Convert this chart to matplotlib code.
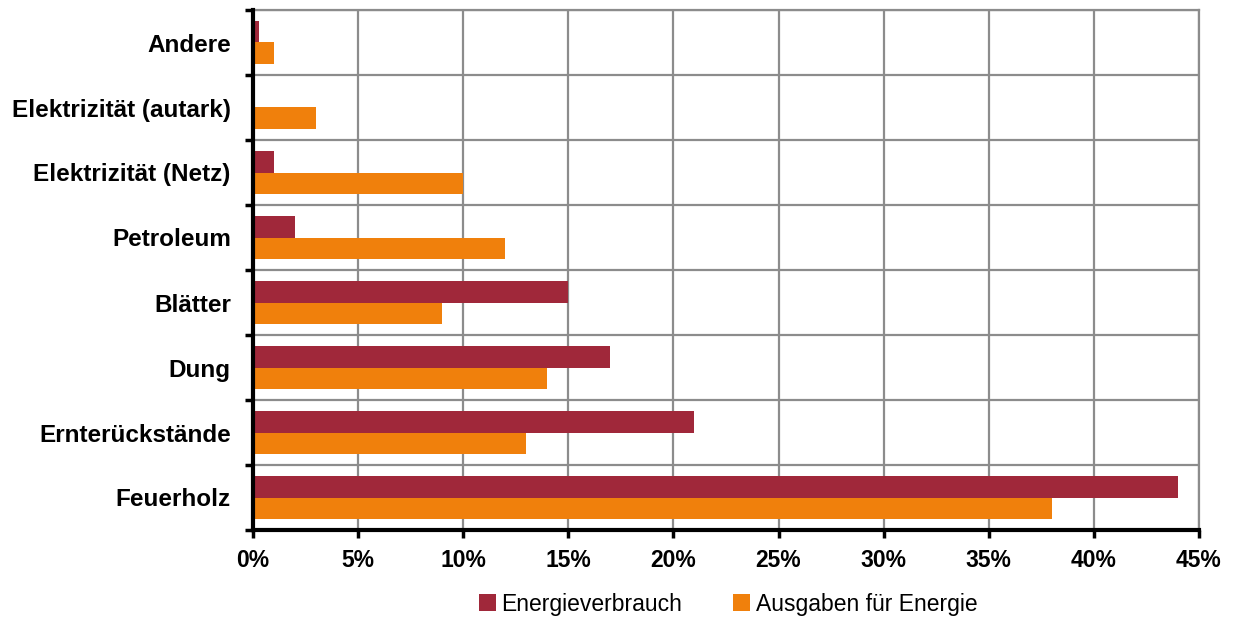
import matplotlib
matplotlib.use("Agg")
import matplotlib.pyplot as plt
import numpy as np
from matplotlib.ticker import FixedLocator, FuncFormatter

categories = ["Feuerholz", "Ernterückstände", "Dung", "Blätter", "Petroleum",
              "Elektrizität (Netz)", "Elektrizität (autark)", "Andere"]
energieverbrauch = [44, 21, 17, 15, 2, 1, 0, 0.3]
ausgaben = [38, 13, 14, 9, 12, 10, 3, 1]
xticks = [0, 5, 10, 15, 20, 25, 30, 35, 40, 45]

plt.rcParams['font.family'] = ['Liberation Sans', 'DejaVu Sans']

fig = plt.figure(figsize=(12.34, 6.19), dpi=100)
ax = fig.add_axes([253/1234, 1-530/619, (1199-253)/1234, (530-10)/619])

y = np.arange(len(categories))
h = 0.33
red = "#A0283A"
orange = "#F0800C"
ax.barh(y + h/2, energieverbrauch, height=h, color=red, label="Energieverbrauch", zorder=3)
ax.barh(y - h/2, ausgaben, height=h, color=orange, label="Ausgaben für Energie", zorder=3)

ax.set_xlim(0, 45)
ax.set_ylim(-0.5, len(categories) - 0.5)
ax.set_xticks(xticks)
ax.xaxis.set_major_formatter(FuncFormatter(lambda v, p: f"{int(v)}%"))
ax.yaxis.set_major_locator(FixedLocator(np.arange(-0.5, len(categories), 1.0)))
ax.yaxis.set_major_formatter(FuncFormatter(lambda v, p: ""))
ax.yaxis.set_minor_locator(FixedLocator(y))
ax.set_yticklabels(categories, minor=True)

ax.grid(True, which="major", color="#8c8c8c", linewidth=1.6, zorder=0)
ax.set_axisbelow(True)
for side in ["top", "right"]:
    ax.spines[side].set_color("#8c8c8c")
    ax.spines[side].set_linewidth(1.6)
for side in ["left", "bottom"]:
    ax.spines[side].set_color("black")
    ax.spines[side].set_linewidth(3)
    ax.spines[side].set_zorder(4)

ax.tick_params(axis="x", which="major", direction="out", length=6, width=2.5,
               labelsize=16.5, pad=8)
for lbl in ax.get_xticklabels():
    lbl.set_fontweight("bold")
ax.tick_params(axis="y", which="major", direction="out", length=6, width=2.5)
ax.tick_params(axis="y", which="minor", length=0, labelsize=17.5, pad=16)
for lbl in ax.get_yticklabels(minor=True):
    lbl.set_fontweight("bold")
    lbl.set_y(lbl.get_position()[1])

fig.legend(loc="center", bbox_to_anchor=(0.590, 1-604/619), ncol=2, frameon=False,
           fontsize=16.5, handlelength=0.75, handleheight=0.75, handletextpad=0.25,
           columnspacing=2.2)

fig.savefig("out.png", dpi=100)
